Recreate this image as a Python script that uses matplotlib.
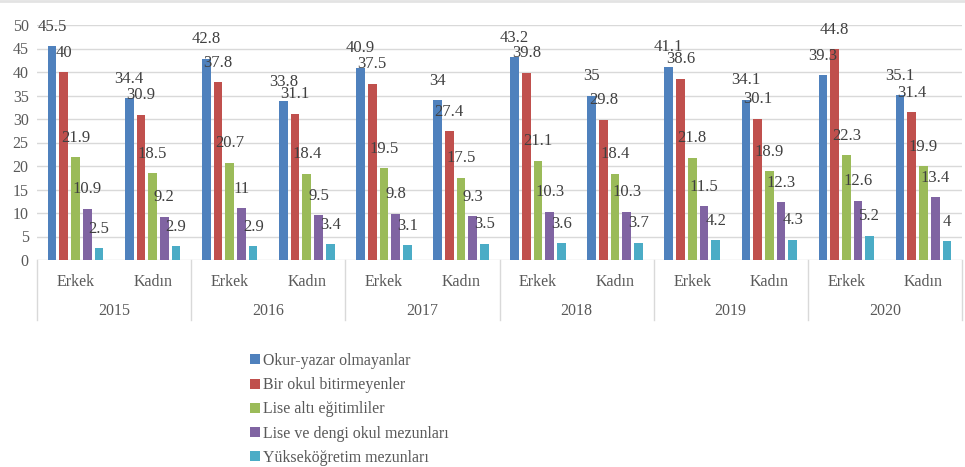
import numpy as np
import matplotlib.pyplot as plt
from matplotlib.patches import Patch
from matplotlib.lines import Line2D
from matplotlib.transforms import blended_transform_factory

years = ['2015', '2016', '2017', '2018', '2019', '2020']
genders = ['Erkek', 'Kadın']
series = ['Okur-yazar olmayanlar', 'Bir okul bitirmeyenler', 'Lise altı eğitimliler',
          'Lise ve dengi okul mezunları', 'Yükseköğretim mezunları']
colors = ['#4F81BD', '#C0504D', '#9BBB59', '#8064A2', '#4BACC6']

# values per category: 2015 Erkek, 2015 Kadın, 2016 Erkek, ...
okur_yazar_olmayan = [45.5, 34.4, 42.8, 33.8, 40.9, 34, 43.2, 35, 41.1, 34.1, 39.3, 35.1]
okul_bitirmeyen = [40, 30.9, 37.8, 31.1, 37.5, 27.4, 39.8, 29.8, 38.6, 30.1, 44.8, 31.4]
lise_alti = [21.9, 18.5, 20.7, 18.4, 19.5, 17.5, 21.1, 18.4, 21.8, 18.9, 22.3, 19.9]
lise_dengi = [10.9, 9.2, 11, 9.5, 9.8, 9.3, 10.3, 10.3, 11.5, 12.3, 12.6, 13.4]
yuksekogretim = [2.5, 2.9, 2.9, 3.4, 3.1, 3.5, 3.6, 3.7, 4.2, 4.3, 5.2, 4]
all_values = [okur_yazar_olmayan, okul_bitirmeyen, lise_alti, lise_dengi, yuksekogretim]

plt.rcParams['font.family'] = ['Liberation Serif', 'DejaVu Serif']
txt = '#595959'

fig = plt.figure(figsize=(9.65, 4.67), dpi=100)
ax = fig.add_axes([37 / 965, 207 / 467, 925 / 965, 235 / 467])

x = np.arange(len(okur_yazar_olmayan))
step = 0.152
width = 0.113
for i, (vals, c) in enumerate(zip(all_values, colors)):
    pos = x + (i - 2) * step
    ax.bar(pos, vals, width=width, color=c, zorder=3)
    for px, v in zip(pos, vals):
        ax.annotate(f'{v:g}', (px, v), xytext=(0, 14), textcoords='offset points',
                    ha='center', va='center', fontsize=12, color='#404040',
                    annotation_clip=False, zorder=4)

ax.set_xlim(-0.5, len(x) - 0.5)
ax.set_ylim(0, 50)
ax.set_yticks(np.arange(0, 51, 5))
ax.yaxis.grid(True, color='#D9D9D9', linewidth=1, zorder=0)
ax.set_xticks([])
for s in ax.spines.values():
    s.set_visible(False)
ax.tick_params(axis='y', length=0, labelsize=11.5, labelcolor=txt, pad=6)

trans = blended_transform_factory(ax.transData, ax.transAxes)
for k in range(len(x)):
    ax.text(k, -0.094, genders[k % 2], transform=trans, ha='center', va='center',
            fontsize=11.5, color=txt)
for j, yr in enumerate(years):
    ax.text(2 * j + 0.5, -0.217, yr, transform=trans, ha='center', va='center',
            fontsize=11.5, color=txt)
for j in range(len(years) + 1):
    ax.plot([2 * j - 0.5, 2 * j - 0.5], [0, -0.255], transform=trans, color='#D9D9D9',
            linewidth=1, clip_on=False)

handles = [Patch(facecolor=c, label=s) for c, s in zip(colors, series)]
leg = fig.legend(handles=handles, loc='upper left', bbox_to_anchor=(250 / 965, 1 - 353 / 467),
                 frameon=False, fontsize=11.4, handlelength=0.6, handleheight=0.6,
                 handletextpad=0.2, labelspacing=0.52, borderaxespad=0, borderpad=0)
for t in leg.get_texts():
    t.set_color(txt)

fig.add_artist(Line2D([0, 1], [0.997, 0.997], color='#E3E3E3', linewidth=2))

fig.savefig('out.png', dpi=100)
